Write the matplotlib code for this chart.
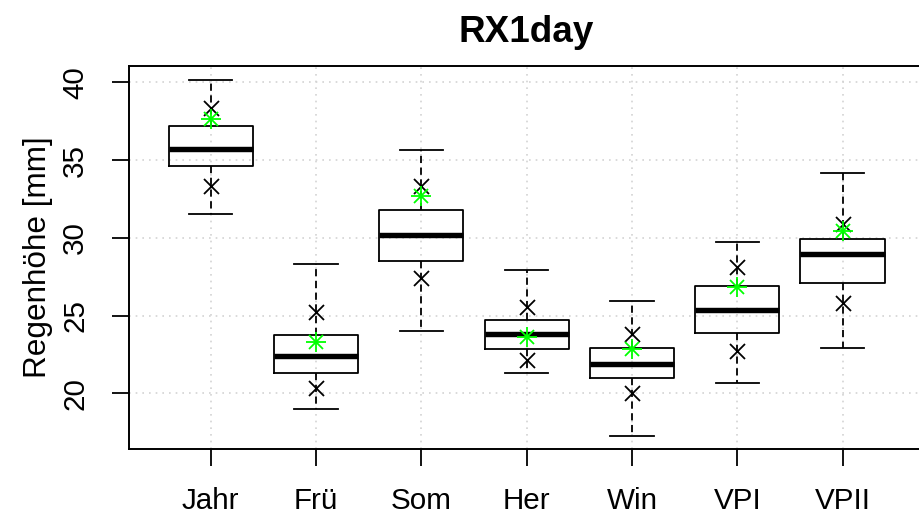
import matplotlib
matplotlib.use("Agg")
import matplotlib.pyplot as plt

plt.rcParams['font.family'] = ['Liberation Sans', 'DejaVu Sans']

categories = ['Jahr', 'Frü', 'Som', 'Her', 'Win', 'VPI', 'VPII']
whisker_low = [31.53, 18.99, 24.01, 21.29, 17.27, 20.64, 22.89]
box_low = [34.62, 21.33, 28.53, 22.85, 21.00, 23.86, 27.09]
median = [35.71, 22.40, 30.18, 23.83, 21.86, 25.38, 28.98]
box_high = [37.21, 23.75, 31.79, 24.71, 22.91, 26.90, 29.92]
whisker_high = [40.15, 28.32, 35.63, 27.91, 25.92, 29.73, 34.15]
cross_low = [33.35, 20.36, 27.40, 22.14, 20.00, 22.74, 25.79]
cross_high = [38.33, 25.21, 33.33, 25.57, 23.79, 28.14, 30.89]
star_values = [37.62, 23.32, 32.69, 23.64, 22.83, 26.82, 30.46]
y_ticks = [20, 25, 30, 35, 40]

W, H = 919, 519
fig = plt.figure(figsize=(W / 100, H / 100), dpi=100)
left, right, top, bottom = 128.6, 924.7, 65.7, 449.3
ax = fig.add_axes([left / W, (H - bottom) / H, (right - left) / W, (bottom - top) / H])

pos = list(range(1, len(categories) + 1))
stats = []
for i, c in enumerate(categories):
    stats.append(dict(label=c, whislo=whisker_low[i], q1=box_low[i], med=median[i],
                      q3=box_high[i], whishi=whisker_high[i], fliers=[]))

ax.set_axisbelow(True)
ax.grid(True, color='lightgray', linestyle=(0, (1, 3)), linewidth=1.2)

lw = 1.3
ax.bxp(stats, positions=pos, widths=0.8, capwidths=0.41, showfliers=False,
       boxprops=dict(color='black', linewidth=lw),
       medianprops=dict(color='black', linewidth=3.9, solid_capstyle='butt'),
       whiskerprops=dict(color='black', linewidth=lw, linestyle=(0, (4, 2.5))),
       capprops=dict(color='black', linewidth=lw), manage_ticks=False, zorder=3)

ax.plot(pos, cross_low, linestyle='none', marker='x', markersize=10.8,
        markeredgewidth=lw, color='black', zorder=4)
ax.plot(pos, cross_high, linestyle='none', marker='x', markersize=10.8,
        markeredgewidth=lw, color='black', zorder=4)
ax.plot(pos, star_values, linestyle='none', marker='+', markersize=14,
        markeredgewidth=lw, color='#00FF00', zorder=5)
ax.plot(pos, star_values, linestyle='none', marker='x', markersize=10,
        markeredgewidth=lw, color='#00FF00', zorder=5)

ax.set_xlim(0.22, 7.78)
ax.set_ylim(16.40, 41.07)
ax.set_xticks(pos)
ax.set_xticklabels(categories)
ax.set_yticks(y_ticks)
ax.set_yticklabels([str(v) for v in y_ticks], rotation=90, va='center')
ax.tick_params(axis='both', direction='out', length=12.5, width=lw, labelsize=21.3,
               colors='black')
ax.tick_params(axis='x', pad=15)
ax.tick_params(axis='y', pad=16)
for s in ax.spines.values():
    s.set_linewidth(1.4)

ax.set_ylabel('Regenhöhe [mm]', fontsize=22.7, labelpad=6)
ax.set_title('RX1day', fontsize=26.6, fontweight='bold', pad=17)

fig.savefig('out.png', dpi=100)
